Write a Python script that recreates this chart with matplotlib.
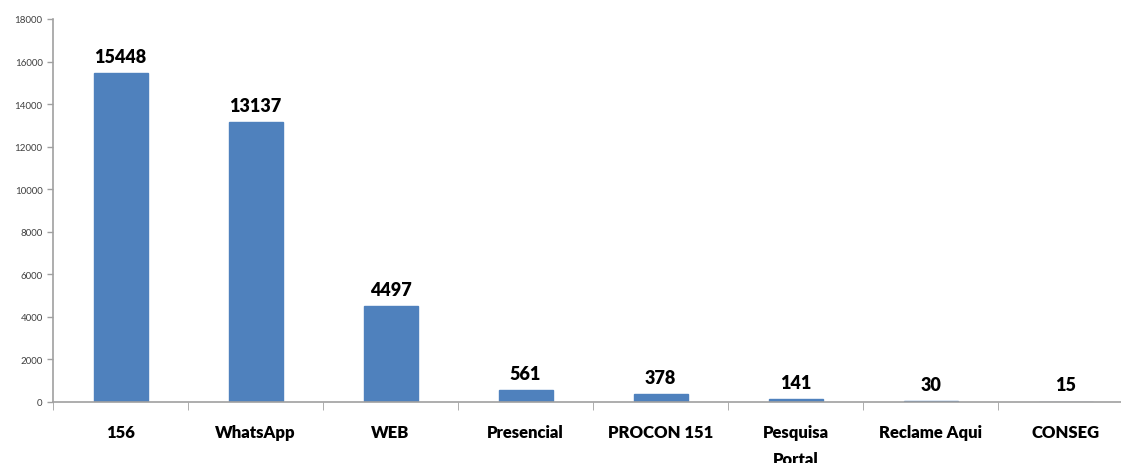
import matplotlib.pyplot as plt
import numpy as np

categorias = ["156", "WhatsApp", "WEB", "Presencial", "PROCON 151",
              "Pesquisa\nPortal", "Reclame Aqui", "CONSEG"]
valores = [15448, 13137, 4497, 561, 378, 141, 30, 15]
yticks = [0, 2000, 4000, 6000, 8000, 10000, 12000, 14000, 16000, 18000]

plt.rcParams['font.family'] = ['Lato', 'DejaVu Sans']

fig = plt.figure(figsize=(11.21, 4.64), dpi=100)
ax = fig.add_axes([53 / 1121, 1 - 403 / 464, 1 - 53 / 1121, (403 - 20) / 464])

x = np.arange(len(categorias))
ax.bar(x, valores, width=0.4, color="#4F81BD", edgecolor="#4F81BD")

for xi, v in zip(x, valores):
    ax.annotate(str(v), (xi, v), xytext=(0, 6), textcoords="offset points",
                ha="center", va="bottom", fontsize=13, fontweight="heavy")

ax.set_xlim(-0.5, 7.41)
ax.set_ylim(0, 18000)
ax.set_yticks(yticks)
ax.set_yticklabels([str(t) for t in yticks], fontsize=7, color="#404040")

ax.set_xticks(x)
ax.set_xticklabels(categorias, fontsize=12, fontweight="heavy", va="top", linespacing=1.8)
ax.tick_params(axis="x", which="major", length=0, pad=16)
ax.set_xticks(np.arange(-0.5, 7.5, 1.0), minor=True)
ax.tick_params(axis="x", which="minor", length=6, color="#a0a0a0", direction="out")
ax.tick_params(axis="y", length=4, color="#a0a0a0", width=1)

for s in ["top", "right"]:
    ax.spines[s].set_visible(False)
for s in ["left", "bottom"]:
    ax.spines[s].set_color("#a0a0a0")
    ax.spines[s].set_linewidth(1.2)

fig.savefig("out.png", dpi=100)
